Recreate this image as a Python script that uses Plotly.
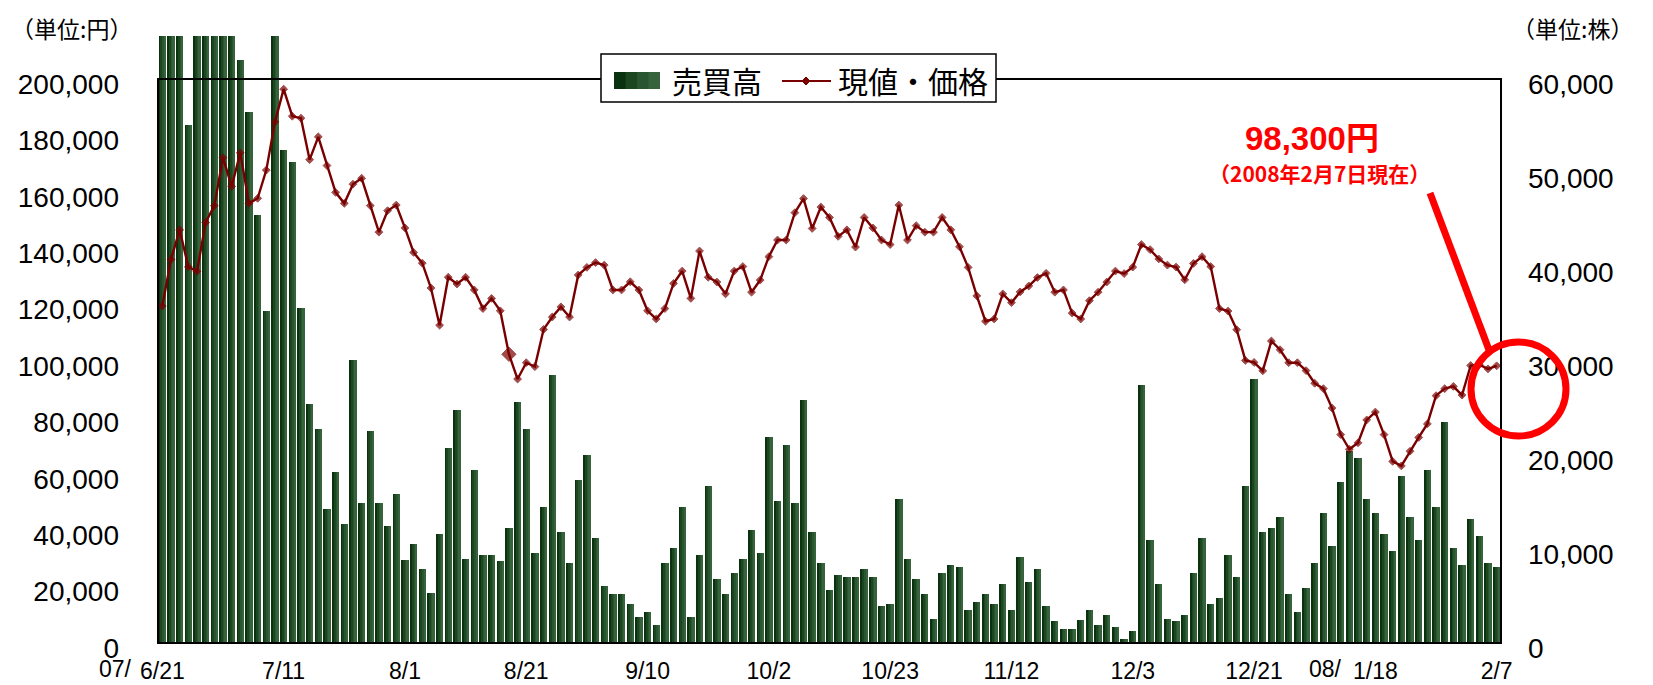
import plotly.graph_objects as go
import pandas as pd

# ---------------- data ----------------
holidays = ['2007-07-16', '2007-09-17', '2007-09-24', '2007-10-08', '2007-11-23',
            '2007-12-24', '2007-12-31', '2008-01-01', '2008-01-02', '2008-01-03',
            '2008-01-14']
trading_days = [d for d in pd.bdate_range('2007-06-21', '2008-02-07')
                if d.strftime('%Y-%m-%d') not in holidays]
categories = [f"{d.year % 100:02d}/{d.month}/{d.day}" for d in trading_days]

# 売買高 (shares)
volume = [70000, 70000, 70000, 55100, 70000, 70000, 70000, 70000, 70000, 62000,
          56500, 45500, 35300, 70000, 52400, 51200, 35600, 25400, 22800, 14300,
          18200, 12700, 30100, 14900, 22600, 14900, 12500, 15800, 8800, 10500,
          7900, 5300, 11600, 20700, 24800, 8900, 18400, 9400, 9400, 8700,
          12200, 25600, 22800, 9600, 14500, 28500, 11800, 8500, 17300, 20000,
          11200, 6100, 5200, 5200, 4200, 2800, 3300, 1900, 8500, 10100,
          14500, 2800, 9400, 16700, 6800, 5200, 7500, 8900, 12000, 9600,
          21900, 15100, 21100, 14900, 25900, 11800, 8500, 5600, 7200, 7000,
          7000, 7900, 7000, 3900, 4200, 15300, 8900, 6800, 5200, 2600,
          7500, 8300, 8100, 3500, 4400, 5200, 4200, 6300, 3500, 9200,
          6500, 7900, 3900, 2300, 1500, 1500, 2400, 3500, 1900, 3000,
          1700, 400, 1300, 27500, 11000, 6300, 2600, 2300, 3000, 7500,
          11200, 4200, 4800, 9400, 7000, 16700, 28100, 11800, 12200, 13400,
          5200, 3300, 5900, 8500, 13800, 10300, 17100, 20400, 19700, 15300,
          13800, 11600, 9800, 17800, 13400, 11000, 18400, 14500, 23500, 10100,
          8300, 13200, 11400, 8500, 8100]

# 現値・価格 (yen)
price = [119500, 136000, 146500, 133400, 131800, 149100, 155100, 172100, 161900, 173800,
         155900, 157700, 167700, 184800, 196400, 186800, 186100, 171400, 179500, 169300,
         159800, 155900, 162700, 164800, 155100, 145700, 153300, 155300, 147200, 138500,
         134700, 125900, 112700, 129700, 127300, 129700, 125200, 118600, 122200, 117800,
         102400, 93600, 99400, 98000, 111200, 115600, 119200, 115600, 130500, 133200,
         134900, 134000, 125200, 125200, 128100, 125200, 117800, 114900, 118600, 127500,
         131900, 122200, 139000, 129700, 128000, 123800, 131900, 133500, 124400, 128700,
         137000, 142900, 142900, 152600, 157600, 147000, 154600, 150900, 144200, 146500,
         140400, 150900, 147200, 142900, 141300, 155300, 142900, 148000, 145700, 145700,
         150900, 146500, 140500, 133200, 123100, 114100, 114900, 123800, 120700, 124500,
         126600, 129600, 131100, 124400, 125200, 117000, 114900, 121400, 124400, 128000,
         131900, 131000, 133300, 141300, 139500, 136200, 134000, 133300, 128800, 134600,
         137000, 133500, 118600, 117700, 111100, 100200, 99500, 96500, 107100, 104000,
         99400, 99400, 96600, 92100, 90200, 83300, 73900, 68700, 71000, 79100,
         81900, 73900, 64400, 62800, 68000, 72900, 77700, 87700, 90200, 91000,
         87900, 98400, 98700, 97200, 98300]

tick_cats = ['07/6/21', '07/7/11', '07/8/1', '07/8/21', '07/9/10', '07/10/2',
             '07/10/23', '07/11/12', '07/12/3', '07/12/21', '08/1/18', '08/2/7']
tick_text = ['6/21', '7/11', '8/1', '8/21', '9/10', '10/2',
             '10/23', '11/12', '12/3', '12/21', '1/18', '2/7']
yen_ticks = list(range(0, 200001, 20000))
share_ticks = list(range(0, 60001, 10000))

# ---------------- geometry helpers (screen pixels) ----------------
W, H = 1653, 685
PAGE_OFF = 8            # default body margin of the html page
L, R, T, B = 158, 1501, 36, 643
FRAME_TOP = 79
FW, FH = W - PAGE_OFF, H - PAGE_OFF


def px(x):
    return (x - L) / (R - L)


def py(y):
    return (B - y) / (B - T)


frame_frac = py(FRAME_TOP)
yen_max = 200000 / frame_frac
share_max = 60000 / frame_frac

FONT = "Liberation Sans, Arial, Noto Sans CJK JP"
JFONT = "Noto Sans CJK JP, Liberation Sans"
DARKRED = "#7a0000"
strip_colors = ['#0b320f', '#1b4620', '#295630', '#36633b']

fig = go.Figure()

# bars drawn as overlapping strips to mimic the horizontal gradient
bw = 0.85
n = len(strip_colors)
for k, c in enumerate(strip_colors):
    fig.add_trace(go.Bar(
        x=categories, y=volume, name='売買高', yaxis='y',
        marker=dict(color=c, line=dict(width=0)),
        width=bw - k * bw / n, offset=-bw / 2 + k * bw / n,
        showlegend=False))

highlight_index = 40
sizes = [11 if i == highlight_index else 6 for i in range(len(price))]
fig.add_trace(go.Scatter(
    x=categories, y=price, name='現値・価格', yaxis='y2', mode='lines+markers',
    line=dict(color=DARKRED, width=2.4),
    marker=dict(symbol='diamond', size=sizes, color=DARKRED,
                line=dict(color=DARKRED, width=1)),
    showlegend=False))

shapes = []
# frame
shapes.append(dict(type='rect', xref='paper', yref='paper', x0=0, x1=1, y0=0, y1=frame_frac,
                   line=dict(color='black', width=2), fillcolor='rgba(0,0,0,0)', layer='above'))
# legend box
shapes.append(dict(type='rect', xref='paper', yref='paper', x0=px(601), x1=px(996),
                   y0=py(102), y1=py(54), line=dict(color='black', width=1.5),
                   fillcolor='white', layer='above'))
sw = (660 - 614) / n
for k, c in enumerate(strip_colors):
    shapes.append(dict(type='rect', xref='paper', yref='paper',
                       x0=px(614 + k * sw), x1=px(660),
                       y0=py(89), y1=py(72), line=dict(width=0), fillcolor=c, layer='above'))
shapes.append(dict(type='line', xref='paper', yref='paper', x0=px(782), x1=px(831),
                   y0=py(81), y1=py(81), line=dict(color=DARKRED, width=2), layer='above'))
shapes.append(dict(type='path', xref='paper', yref='paper',
                   path=f"M {px(806)},{py(77)} L {px(810)},{py(81)} L {px(806)},{py(85)} L {px(802)},{py(81)} Z",
                   fillcolor=DARKRED, line=dict(color=DARKRED, width=1), layer='above'))
# red callout
shapes.append(dict(type='line', xref='paper', yref='paper', x0=px(1430), y0=py(193),
                   x1=px(1489), y1=py(350), line=dict(color='#ff0000', width=7), layer='above'))
shapes.append(dict(type='circle', xref='paper', yref='paper', x0=px(1471), x1=px(1566),
                   y0=py(436), y1=py(342), line=dict(color='#ff0000', width=7),
                   fillcolor='rgba(0,0,0,0)', layer='above'))

annotations = [
    dict(text='（単位:円）', x=px(PAGE_OFF + 1), y=py(PAGE_OFF + 1), xanchor='left', yanchor='top',
         font=dict(family=JFONT, size=23, color='black')),
    dict(text='（単位:株）', x=px(1510), y=py(PAGE_OFF + 1), xanchor='left', yanchor='top',
         font=dict(family=JFONT, size=23, color='black')),
    dict(text='売買高', x=px(670), y=py(80), xanchor='left', yanchor='middle',
         font=dict(family=JFONT, size=30, color='black')),
    dict(text='現値・価格', x=px(836), y=py(80), xanchor='left', yanchor='middle',
         font=dict(family=JFONT, size=30, color='black')),
    dict(text='07/', x=px(134), y=py(669), xanchor='right', yanchor='middle',
         font=dict(family=FONT, size=23, color='black')),
    dict(text='08/', x=px(1344), y=py(669), xanchor='right', yanchor='middle',
         font=dict(family=FONT, size=23, color='black')),
    dict(text='<b>98,300円</b>', x=px(1312), y=py(138), xanchor='center', yanchor='middle',
         font=dict(family=FONT, size=33, color='#ff0000')),
    dict(text='<b>（2008年2月7日現在）</b>', x=px(1319), y=py(173), xanchor='center',
         yanchor='middle', font=dict(family=JFONT, size=21, color='#ff0000')),
]
for a in annotations:
    a.update(xref='paper', yref='paper', showarrow=False)

fig.update_layout(
    width=FW, height=FH,
    margin=dict(l=L - PAGE_OFF, r=FW - (R - PAGE_OFF), t=T - PAGE_OFF,
                b=FH - (B - PAGE_OFF), autoexpand=False),
    paper_bgcolor='white', plot_bgcolor='white',
    barmode='overlay', bargap=0,
    font=dict(family=FONT, color='black'),
    showlegend=False,
    xaxis=dict(type='category', range=[-0.5, len(categories) - 0.5], autorange=False,
               tickmode='array', tickvals=tick_cats, ticktext=tick_text,
               tickfont=dict(size=23), showgrid=False, zeroline=False, showline=False,
               ticks='', ticklabelstandoff=12),
    yaxis=dict(side='right', range=[0, share_max], tickmode='array', tickvals=share_ticks,
               tickformat=',', tickfont=dict(size=28), showgrid=False, zeroline=False,
               showline=False, ticks='', ticklabelstandoff=26, ticklabelshift=5),
    yaxis2=dict(side='left', overlaying='y', range=[0, yen_max], tickmode='array',
                tickvals=yen_ticks, tickformat=',', tickfont=dict(size=28), showgrid=False,
                zeroline=False, showline=False, ticks='', ticklabelstandoff=38,
                ticklabelshift=5),
    shapes=shapes, annotations=annotations,
)

fig.write_html("out.html")
